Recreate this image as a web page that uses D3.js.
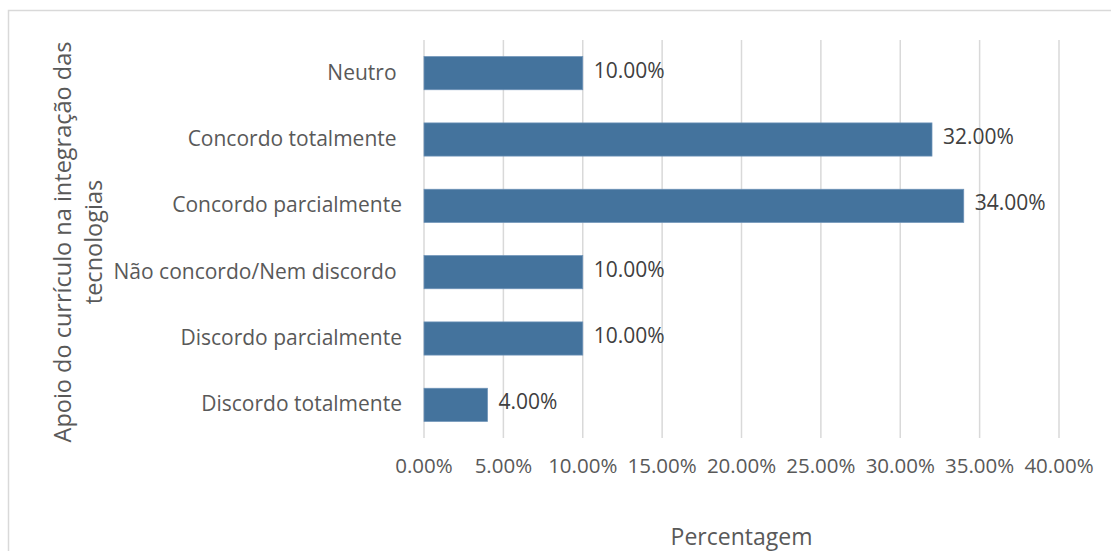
<!DOCTYPE html>
<html>
<head>
<meta charset="utf-8">
<script src="https://cdn.jsdelivr.net/npm/d3@7"></script>
<style>
  body { margin: 0; background: #fff; }
  svg text { font-family: "Open Sans", sans-serif; white-space: pre; }
</style>
</head>
<body>
<div class="chart"></div>
<script>
// categories from top to bottom, as drawn (some have a trailing space in the source)
var categories = ["Neutro ", "Concordo totalmente ", "Concordo parcialmente", "Não concordo/Nem discordo ", "Discordo parcialmente", "Discordo totalmente"];
var values = [10, 32, 34, 10, 10, 4];
var ticks = [0, 5, 10, 15, 20, 25, 30, 35, 40];
var yTitle = ["Apoio do currículo na integração das", "tecnologias"];
var xTitle = "Percentagem";

var width = 1111, height = 551;
var plot = { left: 424, right: 1059, top: 40, bottom: 438 };

var svg = d3.select(".chart").append("svg")
    .attr("width", width).attr("height", height);

// chart frame
svg.append("rect")
    .attr("x", 8.5).attr("y", 10.5)
    .attr("width", 1120).attr("height", 560)
    .attr("fill", "none").attr("stroke", "#d9d9d9").attr("stroke-width", 1.5);

var x = d3.scaleLinear().domain([0, 40]).range([plot.left, plot.right]);
var y = d3.scaleBand().domain(categories).range([plot.top, plot.bottom])
    .paddingInner(0.5).paddingOuter(0.25);

// gridlines
svg.append("g").selectAll("line")
    .data(ticks)
    .enter().append("line")
    .attr("x1", d => x(d)).attr("x2", d => x(d))
    .attr("y1", plot.top).attr("y2", plot.bottom)
    .attr("stroke", "#d9d9d9").attr("stroke-width", 1.5);

// tick labels
svg.append("g").selectAll("text")
    .data(ticks)
    .enter().append("text")
    .attr("x", d => x(d)).attr("y", 466)
    .attr("dy", "0.35em")
    .attr("text-anchor", "middle")
    .attr("font-size", 20.5)
    .attr("fill", "#595959")
    .text(d => d.toFixed(2) + "%");

// bars
svg.append("g").selectAll("rect")
    .data(values)
    .enter().append("rect")
    .attr("x", x(0))
    .attr("y", (d, i) => y(categories[i]))
    .attr("width", d => x(d) - x(0))
    .attr("height", y.bandwidth())
    .attr("fill", "#44739d")
    .attr("stroke", "#6d93b8").attr("stroke-width", 0.75);

// data labels
svg.append("g").selectAll("text")
    .data(values)
    .enter().append("text")
    .attr("x", d => x(d) + 11)
    .attr("y", (d, i) => y(categories[i]) + y.bandwidth() / 2 - 3)
    .attr("dy", "0.35em")
    .attr("font-size", 21)
    .attr("fill", "#404040")
    .text(d => d.toFixed(2) + "%");

// category labels
svg.append("g").selectAll("text")
    .data(categories)
    .enter().append("text")
    .attr("x", 402)
    .attr("y", d => y(d) + y.bandwidth() / 2 - 1)
    .attr("dy", "0.35em")
    .attr("text-anchor", "end")
    .attr("font-size", 21)
    .attr("fill", "#595959")
    .text(d => d);

// axis titles
svg.append("text")
    .attr("transform", "translate(78,242) rotate(-90)")
    .attr("text-anchor", "middle")
    .attr("font-size", 23.5)
    .attr("fill", "#595959")
    .selectAll("tspan")
    .data(yTitle)
    .enter().append("tspan")
    .attr("x", 0)
    .attr("dy", (d, i) => i === 0 ? "-0.3em" : "1.3em")
    .text(d => d);

svg.append("text")
    .attr("x", x(20)).attr("y", 537)
    .attr("dy", "0.35em")
    .attr("text-anchor", "middle")
    .attr("font-size", 23)
    .attr("fill", "#595959")
    .text(xTitle);
</script>
</body>
</html>
